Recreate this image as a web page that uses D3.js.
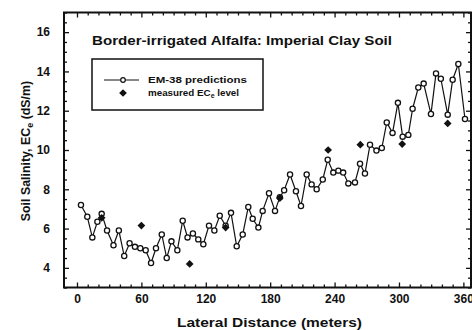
<!DOCTYPE html>
<html>
<head>
<meta charset="utf-8">
<script src="https://cdn.jsdelivr.net/npm/d3@7"></script>
<style>
  body { margin: 0; background: #fff; }
  text { font-family: "Liberation Sans", Arial, sans-serif; font-weight: bold; fill: #111; }
</style>
</head>
<body>
<svg id="chart"></svg>
<script>
// EM-38 predicted salinity along the border (distance in m, ECe in dS/m)
const predDistance = [3.7, 9.6, 14.3, 19, 23, 28, 34, 39, 44, 49, 54, 59, 64, 69, 73.6, 79, 83.6, 88,
  93.5, 98.5, 103, 108, 113, 117.7, 123, 128, 133, 138.5, 143.5, 148.8, 154.4, 159.6, 163.7, 169,
  173, 178.9, 184.5, 189, 193, 198.5, 204, 208.7, 214, 218.6, 223.3, 229, 233.6, 238.8, 243.5, 248,
  252.8, 259, 263.7, 268.3, 273, 279, 284, 288.6, 294, 299, 303.4, 308.7, 312.7, 318, 323, 329.8,
  334.5, 339, 345.4, 350, 355.3, 361.5];
const predECe = [7.2, 6.6, 5.55, 6.35, 6.75, 5.9, 5.15, 5.9, 4.6, 5.25, 5.07, 5.0, 4.9, 4.25, 5.0, 5.7, 4.5, 5.35,
  4.9, 6.4, 5.55, 5.75, 5.45, 5.2, 6.15, 5.9, 6.65, 6.15, 6.8, 5.1, 5.7, 7.1, 6.5, 6.05,
  6.9, 7.8, 6.9, 7.6, 7.95, 8.75, 7.9, 7.15, 8.75, 8.25, 8.0, 8.5, 9.5, 8.85, 8.95, 8.85,
  8.3, 8.35, 9.3, 8.8, 10.27, 9.97, 10.1, 11.4, 10.87, 12.4, 10.68, 10.77, 12.1, 13.18, 13.38, 11.83,
  13.9, 13.63, 11.8, 13.58, 14.38, 11.58];

// measured ECe levels
const measDistance = [23, 60, 105, 138.5, 189, 234, 264, 303, 345.4];
const measECe = [6.55, 6.15, 4.2, 6.05, 7.55, 10.0, 10.27, 10.3, 11.35];

const xTickValues = [0, 60, 120, 180, 240, 300, 360];
const yTickValues = [4, 6, 8, 10, 12, 14, 16];

const svgDimensions = { width: 472, height: 330 };
const plotBox = { left: 64, right: 471, top: 12.5, bottom: 287.5 };
const axisStyle = { stroke: "#111", strokeWidth: 2, major: 5, minor: 3 };

const predictions = predDistance.map((d, i) => ({ x: d, y: predECe[i] }));
const measured = measDistance.map((d, i) => ({ x: d, y: measECe[i] }));

const svg = d3.select("#chart")
  .attr("width", svgDimensions.width)
  .attr("height", svgDimensions.height);

const x = d3.scaleLinear().domain([-12.1, 367.1]).range([plotBox.left, plotBox.right]);
const y = d3.scaleLinear().domain([3, 17]).range([plotBox.bottom, plotBox.top]);

// frame
svg.append("rect")
  .attr("x", plotBox.left)
  .attr("y", plotBox.top)
  .attr("width", plotBox.right - plotBox.left)
  .attr("height", plotBox.bottom - plotBox.top)
  .attr("fill", "none")
  .attr("stroke", axisStyle.stroke)
  .attr("stroke-width", axisStyle.strokeWidth);

// ticks on all four sides, pointing inward
const xMinor = d3.range(0, 361, 10).filter(v => v % 60 !== 0);
const yMinor = d3.range(3, 17.01, 0.5).filter(v => v % 2 !== 0);

const addTicks = (axis, values, size, showLabels) => {
  const g = svg.append("g").call(axis.tickValues(values).tickSize(-size).tickSizeOuter(0)
    .tickFormat(showLabels ? d3.format("d") : ""));
  g.select(".domain").remove();
  g.selectAll(".tick line").attr("stroke", axisStyle.stroke).attr("stroke-width", 1.3);
  g.selectAll(".tick text").attr("font-size", 12).attr("fill", "#111")
    .attr("font-family", "Liberation Sans, Arial, sans-serif").attr("font-weight", "bold");
  return g;
};

addTicks(d3.axisBottom(x), xTickValues, axisStyle.major, true)
  .attr("transform", `translate(0,${plotBox.bottom})`)
  .selectAll(".tick text").attr("dy", "1.05em");
addTicks(d3.axisBottom(x), xMinor, axisStyle.minor, false)
  .attr("transform", `translate(0,${plotBox.bottom})`);
addTicks(d3.axisTop(x), xTickValues, axisStyle.major, false)
  .attr("transform", `translate(0,${plotBox.top})`);
addTicks(d3.axisTop(x), xMinor, axisStyle.minor, false)
  .attr("transform", `translate(0,${plotBox.top})`);

addTicks(d3.axisLeft(y), yTickValues, axisStyle.major, true)
  .attr("transform", `translate(${plotBox.left},0)`)
  .selectAll(".tick text").attr("x", -14);
addTicks(d3.axisLeft(y), yMinor, axisStyle.minor, false)
  .attr("transform", `translate(${plotBox.left},0)`);
addTicks(d3.axisRight(y), yTickValues, axisStyle.major, false)
  .attr("transform", `translate(${plotBox.right},0)`);
addTicks(d3.axisRight(y), yMinor, axisStyle.minor, false)
  .attr("transform", `translate(${plotBox.right},0)`);

// prediction line with open circles
const line = d3.line().x(d => x(d.x)).y(d => y(d.y));
svg.append("path")
  .datum(predictions)
  .attr("d", line)
  .attr("fill", "none")
  .attr("stroke", "#111")
  .attr("stroke-width", 1.2);

svg.selectAll(".pred")
  .data(predictions)
  .enter()
  .append("circle")
  .attr("class", "pred")
  .attr("cx", d => x(d.x))
  .attr("cy", d => y(d.y))
  .attr("r", 2.6)
  .attr("fill", "#fff")
  .attr("stroke", "#111")
  .attr("stroke-width", 1.3);

// measured values as filled diamonds
const diamond = d3.symbol().type(d3.symbolSquare).size(30);
svg.selectAll(".meas")
  .data(measured)
  .enter()
  .append("path")
  .attr("class", "meas")
  .attr("d", diamond)
  .attr("transform", d => `translate(${x(d.x)},${y(d.y)}) rotate(45)`)
  .attr("fill", "#111");

// title
svg.append("text")
  .attr("x", 92)
  .attr("y", 45)
  .attr("font-size", 13.5)
  .attr("textLength", 300)
  .attr("lengthAdjust", "spacingAndGlyphs")
  .text("Border-irrigated Alfalfa:  Imperial Clay Soil");

// legend
const legend = svg.append("g");
legend.append("rect")
  .attr("x", 92).attr("y", 59)
  .attr("width", 171).attr("height", 51)
  .attr("fill", "none")
  .attr("stroke", "#111")
  .attr("stroke-width", 1.5);
legend.append("line")
  .attr("x1", 104).attr("x2", 139)
  .attr("y1", 80).attr("y2", 80)
  .attr("stroke", "#111").attr("stroke-width", 1);
legend.append("circle")
  .attr("cx", 123).attr("cy", 80).attr("r", 2.3)
  .attr("fill", "#fff").attr("stroke", "#111").attr("stroke-width", 1.2);
legend.append("path")
  .attr("d", diamond)
  .attr("transform", "translate(123,93) rotate(45)")
  .attr("fill", "#111");
legend.append("text")
  .attr("x", 148).attr("y", 83)
  .attr("font-size", 9)
  .attr("textLength", 99)
  .attr("lengthAdjust", "spacingAndGlyphs")
  .text("EM-38 predictions");
const measText = legend.append("text")
  .attr("x", 148).attr("y", 96)
  .attr("font-size", 9.8);
measText.append("tspan").text("measured EC");
measText.append("tspan").attr("font-size", 7).attr("dy", 2).text("e");
measText.append("tspan").attr("dy", -2).text(" level");

// axis titles
svg.append("text")
  .attr("x", 177)
  .attr("y", 327)
  .attr("font-size", 13.5)
  .attr("textLength", 185)
  .attr("lengthAdjust", "spacingAndGlyphs")
  .text("Lateral Distance  (meters)");

const yTitle = svg.append("text")
  .attr("transform", "translate(30,151) rotate(-90)")
  .attr("text-anchor", "middle")
  .attr("font-size", 12.4);
yTitle.append("tspan").text("Soil Salinity, EC");
yTitle.append("tspan").attr("font-size", 9).attr("dy", 3).text("e");
yTitle.append("tspan").attr("dy", -3).text(" (dS/m)");
</script>
</body>
</html>
